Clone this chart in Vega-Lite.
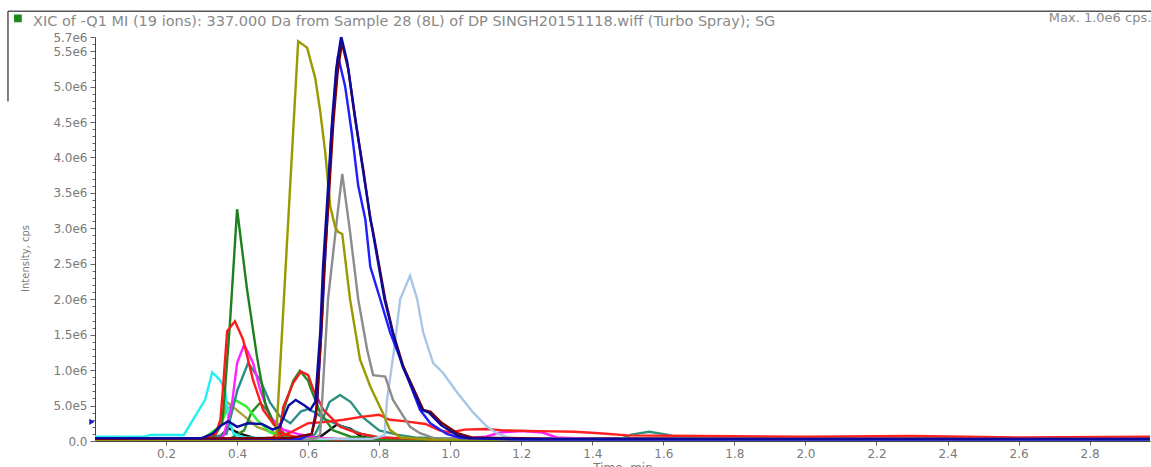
{
"$schema": "https://vega.github.io/schema/vega-lite/v6.json",
"width": 1055,
"height": 404,
"autosize": "none",
"padding": {"left": 95, "top": 37, "right": 1, "bottom": 26},
"background": "white",
"config": {"view": {"stroke": null}, "font": "DejaVu Sans", "axis": {"labelOverlap": false}},
"title": {"text": "XIC of -Q1 MI (19 ions): 337.000 Da from Sample 28 (8L) of DP SINGH20151118.wiff (Turbo Spray); SG", "anchor": "start", "frame": "group", "dx": -62, "offset": -19, "fontSize": 14.5, "fontWeight": "normal", "color": "#8a8a8a", "font": "DejaVu Sans"},
"datasets": {
"series": [
{"s":"darkred","t":0,"v":30000},{"s":"darkred","t":0.5,"v":30000},{"s":"darkred","t":1.0,"v":30000},{"s":"darkred","t":1.5,"v":40000},{"s":"darkred","t":2.0,"v":30000},{"s":"darkred","t":2.5,"v":40000},{"s":"darkred","t":2.97,"v":30000},
{"s":"purple","t":0,"v":10000},{"s":"purple","t":1.0,"v":10000},{"s":"purple","t":2.97,"v":10000},
{"s":"brown","t":0,"v":5000},{"s":"brown","t":0.8,"v":15000},{"s":"brown","t":1.6,"v":10000},{"s":"brown","t":2.97,"v":15000},
{"s":"black","t":0,"v":10000},{"s":"black","t":0.3,"v":10000},{"s":"black","t":0.35,"v":50000},{"s":"black","t":0.375,"v":180000},{"s":"black","t":0.41,"v":100000},{"s":"black","t":0.45,"v":40000},{"s":"black","t":0.6,"v":20000},{"s":"black","t":0.64,"v":80000},{"s":"black","t":0.68,"v":230000},{"s":"black","t":0.72,"v":170000},{"s":"black","t":0.75,"v":60000},{"s":"black","t":0.8,"v":20000},{"s":"black","t":2.97,"v":20000},
{"s":"olive2","t":0,"v":20000},{"s":"olive2","t":0.33,"v":30000},{"s":"olive2","t":0.35,"v":200000},{"s":"olive2","t":0.372,"v":550000},{"s":"olive2","t":0.408,"v":400000},{"s":"olive2","t":0.456,"v":200000},{"s":"olive2","t":0.493,"v":130000},{"s":"olive2","t":0.52,"v":100000},{"s":"olive2","t":0.55,"v":50000},{"s":"olive2","t":0.6,"v":20000},{"s":"olive2","t":2.97,"v":20000},
{"s":"green3","t":0,"v":20000},{"s":"green3","t":0.38,"v":30000},{"s":"green3","t":0.42,"v":150000},{"s":"green3","t":0.44,"v":400000},{"s":"green3","t":0.465,"v":540000},{"s":"green3","t":0.49,"v":400000},{"s":"green3","t":0.51,"v":200000},{"s":"green3","t":0.54,"v":80000},{"s":"green3","t":0.6,"v":20000},{"s":"green3","t":2.97,"v":20000},
{"s":"lime","t":0,"v":20000},{"s":"lime","t":0.3,"v":20000},{"s":"lime","t":0.35,"v":200000},{"s":"lime","t":0.372,"v":440000},{"s":"lime","t":0.394,"v":580000},{"s":"lime","t":0.428,"v":480000},{"s":"lime","t":0.456,"v":300000},{"s":"lime","t":0.493,"v":120000},{"s":"lime","t":0.53,"v":50000},{"s":"lime","t":0.6,"v":20000},{"s":"lime","t":0.8,"v":20000},
{"s":"cyan","t":0,"v":60000},{"s":"cyan","t":0.14,"v":60000},{"s":"cyan","t":0.155,"v":85000},{"s":"cyan","t":0.25,"v":85000},{"s":"cyan","t":0.276,"v":300000},{"s":"cyan","t":0.31,"v":580000},{"s":"cyan","t":0.33,"v":970000},{"s":"cyan","t":0.352,"v":860000},{"s":"cyan","t":0.366,"v":720000},{"s":"cyan","t":0.375,"v":340000},{"s":"cyan","t":0.39,"v":100000},{"s":"cyan","t":0.42,"v":50000},{"s":"cyan","t":0.6,"v":30000},{"s":"cyan","t":0.66,"v":20000},
{"s":"teal","t":0,"v":20000},{"s":"teal","t":0.3,"v":20000},{"s":"teal","t":0.37,"v":100000},{"s":"teal","t":0.38,"v":300000},{"s":"teal","t":0.401,"v":720000},{"s":"teal","t":0.431,"v":1100000},{"s":"teal","t":0.465,"v":860000},{"s":"teal","t":0.493,"v":540000},{"s":"teal","t":0.52,"v":350000},{"s":"teal","t":0.55,"v":250000},{"s":"teal","t":0.58,"v":420000},{"s":"teal","t":0.6,"v":450000},{"s":"teal","t":0.62,"v":400000},{"s":"teal","t":0.65,"v":300000},{"s":"teal","t":0.7,"v":200000},{"s":"teal","t":0.75,"v":100000},{"s":"teal","t":0.8,"v":50000},{"s":"teal","t":0.9,"v":30000},{"s":"teal","t":2.97,"v":20000},
{"s":"teal2","t":0,"v":30000},{"s":"teal2","t":0.6,"v":30000},{"s":"teal2","t":0.62,"v":100000},{"s":"teal2","t":0.64,"v":300000},{"s":"teal2","t":0.66,"v":550000},{"s":"teal2","t":0.69,"v":650000},{"s":"teal2","t":0.72,"v":550000},{"s":"teal2","t":0.75,"v":350000},{"s":"teal2","t":0.8,"v":150000},{"s":"teal2","t":0.85,"v":90000},{"s":"teal2","t":0.9,"v":50000},{"s":"teal2","t":1.0,"v":30000},{"s":"teal2","t":1.48,"v":30000},{"s":"teal2","t":1.51,"v":90000},{"s":"teal2","t":1.56,"v":130000},{"s":"teal2","t":1.61,"v":90000},{"s":"teal2","t":1.65,"v":40000},{"s":"teal2","t":2.97,"v":30000},
{"s":"magenta","t":0,"v":30000},{"s":"magenta","t":0.3,"v":20000},{"s":"magenta","t":0.36,"v":50000},{"s":"magenta","t":0.375,"v":300000},{"s":"magenta","t":0.386,"v":540000},{"s":"magenta","t":0.4,"v":1100000},{"s":"magenta","t":0.42,"v":1360000},{"s":"magenta","t":0.445,"v":1100000},{"s":"magenta","t":0.465,"v":720000},{"s":"magenta","t":0.493,"v":340000},{"s":"magenta","t":0.53,"v":160000},{"s":"magenta","t":0.57,"v":100000},{"s":"magenta","t":0.62,"v":50000},{"s":"magenta","t":0.7,"v":20000},{"s":"magenta","t":1.0,"v":30000},{"s":"magenta","t":1.1,"v":60000},{"s":"magenta","t":1.14,"v":120000},{"s":"magenta","t":1.2,"v":140000},{"s":"magenta","t":1.26,"v":120000},{"s":"magenta","t":1.3,"v":50000},{"s":"magenta","t":1.4,"v":30000},{"s":"magenta","t":2.97,"v":20000},
{"s":"green","t":0,"v":20000},{"s":"green","t":0.33,"v":20000},{"s":"green","t":0.358,"v":250000},{"s":"green","t":0.366,"v":720000},{"s":"green","t":0.38,"v":1670000},{"s":"green","t":0.4,"v":3270000},{"s":"green","t":0.428,"v":2140000},{"s":"green","t":0.456,"v":1190000},{"s":"green","t":0.479,"v":540000},{"s":"green","t":0.501,"v":250000},{"s":"green","t":0.53,"v":50000},{"s":"green","t":0.6,"v":20000},{"s":"green","t":2.97,"v":20000},
{"s":"red","t":0,"v":20000},{"s":"red","t":0.3,"v":20000},{"s":"red","t":0.34,"v":100000},{"s":"red","t":0.353,"v":300000},{"s":"red","t":0.36,"v":720000},{"s":"red","t":0.372,"v":1550000},{"s":"red","t":0.394,"v":1690000},{"s":"red","t":0.417,"v":1430000},{"s":"red","t":0.445,"v":860000},{"s":"red","t":0.473,"v":440000},{"s":"red","t":0.501,"v":250000},{"s":"red","t":0.53,"v":100000},{"s":"red","t":0.58,"v":40000},{"s":"red","t":0.7,"v":20000},
{"s":"green2","t":0.45,"v":20000},{"s":"green2","t":0.5,"v":40000},{"s":"green2","t":0.515,"v":100000},{"s":"green2","t":0.535,"v":500000},{"s":"green2","t":0.558,"v":850000},{"s":"green2","t":0.577,"v":990000},{"s":"green2","t":0.6,"v":850000},{"s":"green2","t":0.606,"v":760000},{"s":"green2","t":0.634,"v":400000},{"s":"green2","t":0.67,"v":150000},{"s":"green2","t":0.72,"v":60000},{"s":"green2","t":0.8,"v":30000},{"s":"green2","t":1.0,"v":20000},
{"s":"red2","t":0.45,"v":30000},{"s":"red2","t":0.5,"v":50000},{"s":"red2","t":0.52,"v":120000},{"s":"red2","t":0.53,"v":480000},{"s":"red2","t":0.558,"v":820000},{"s":"red2","t":0.58,"v":980000},{"s":"red2","t":0.6,"v":930000},{"s":"red2","t":0.615,"v":720000},{"s":"red2","t":0.643,"v":440000},{"s":"red2","t":0.69,"v":200000},{"s":"red2","t":0.738,"v":110000},{"s":"red2","t":0.8,"v":50000},{"s":"red2","t":0.9,"v":30000},{"s":"red2","t":1.0,"v":20000},
{"s":"red3","t":0.5,"v":30000},{"s":"red3","t":0.55,"v":120000},{"s":"red3","t":0.6,"v":250000},{"s":"red3","t":0.65,"v":270000},{"s":"red3","t":0.7,"v":300000},{"s":"red3","t":0.75,"v":340000},{"s":"red3","t":0.8,"v":370000},{"s":"red3","t":0.83,"v":300000},{"s":"red3","t":0.87,"v":280000},{"s":"red3","t":0.93,"v":240000},{"s":"red3","t":0.97,"v":150000},{"s":"red3","t":1.0,"v":120000},{"s":"red3","t":1.04,"v":160000},{"s":"red3","t":1.1,"v":170000},{"s":"red3","t":1.15,"v":150000},{"s":"red3","t":1.25,"v":140000},{"s":"red3","t":1.35,"v":130000},{"s":"red3","t":1.42,"v":110000},{"s":"red3","t":1.5,"v":80000},{"s":"red3","t":1.7,"v":70000},{"s":"red3","t":2.0,"v":60000},{"s":"red3","t":2.3,"v":70000},{"s":"red3","t":2.6,"v":50000},{"s":"red3","t":2.97,"v":60000},
{"s":"lightblue","t":0,"v":30000},{"s":"lightblue","t":0.78,"v":30000},{"s":"lightblue","t":0.815,"v":80000},{"s":"lightblue","t":0.822,"v":580000},{"s":"lightblue","t":0.842,"v":1290000},{"s":"lightblue","t":0.859,"v":2000000},{"s":"lightblue","t":0.887,"v":2330000},{"s":"lightblue","t":0.907,"v":2000000},{"s":"lightblue","t":0.924,"v":1530000},{"s":"lightblue","t":0.952,"v":1100000},{"s":"lightblue","t":0.98,"v":960000},{"s":"lightblue","t":1.02,"v":680000},{"s":"lightblue","t":1.065,"v":400000},{"s":"lightblue","t":1.104,"v":200000},{"s":"lightblue","t":1.135,"v":100000},{"s":"lightblue","t":1.17,"v":40000},{"s":"lightblue","t":1.3,"v":30000},{"s":"lightblue","t":2.97,"v":30000},
{"s":"gray","t":0,"v":20000},{"s":"gray","t":0.6,"v":20000},{"s":"gray","t":0.625,"v":40000},{"s":"gray","t":0.634,"v":100000},{"s":"gray","t":0.656,"v":2000000},{"s":"gray","t":0.682,"v":3170000},{"s":"gray","t":0.696,"v":3770000},{"s":"gray","t":0.718,"v":2950000},{"s":"gray","t":0.741,"v":2000000},{"s":"gray","t":0.766,"v":1290000},{"s":"gray","t":0.783,"v":930000},{"s":"gray","t":0.817,"v":910000},{"s":"gray","t":0.839,"v":580000},{"s":"gray","t":0.887,"v":200000},{"s":"gray","t":0.915,"v":110000},{"s":"gray","t":0.96,"v":30000},{"s":"gray","t":2.97,"v":20000},
{"s":"olive","t":0,"v":20000},{"s":"olive","t":0.49,"v":20000},{"s":"olive","t":0.51,"v":40000},{"s":"olive","t":0.572,"v":5640000},{"s":"olive","t":0.597,"v":5550000},{"s":"olive","t":0.62,"v":5120000},{"s":"olive","t":0.634,"v":4650000},{"s":"olive","t":0.648,"v":4080000},{"s":"olive","t":0.662,"v":3320000},{"s":"olive","t":0.676,"v":3020000},{"s":"olive","t":0.684,"v":2950000},{"s":"olive","t":0.696,"v":2920000},{"s":"olive","t":0.718,"v":2000000},{"s":"olive","t":0.746,"v":1150000},{"s":"olive","t":0.775,"v":770000},{"s":"olive","t":0.81,"v":400000},{"s":"olive","t":0.83,"v":160000},{"s":"olive","t":0.86,"v":50000},{"s":"olive","t":0.95,"v":20000},{"s":"olive","t":2.97,"v":20000},
{"s":"blue","t":0,"v":30000},{"s":"blue","t":0.58,"v":30000},{"s":"blue","t":0.61,"v":100000},{"s":"blue","t":0.625,"v":500000},{"s":"blue","t":0.64,"v":1800000},{"s":"blue","t":0.652,"v":3000000},{"s":"blue","t":0.665,"v":4300000},{"s":"blue","t":0.684,"v":5430000},{"s":"blue","t":0.704,"v":5010000},{"s":"blue","t":0.724,"v":4310000},{"s":"blue","t":0.741,"v":3600000},{"s":"blue","t":0.761,"v":3130000},{"s":"blue","t":0.775,"v":2460000},{"s":"blue","t":0.803,"v":2000000},{"s":"blue","t":0.831,"v":1530000},{"s":"blue","t":0.868,"v":1050000},{"s":"blue","t":0.915,"v":440000},{"s":"blue","t":0.944,"v":250000},{"s":"blue","t":0.99,"v":100000},{"s":"blue","t":1.03,"v":40000},{"s":"blue","t":1.2,"v":20000},{"s":"blue","t":2.97,"v":20000},
{"s":"maroon","t":0,"v":30000},{"s":"maroon","t":0.55,"v":40000},{"s":"maroon","t":0.61,"v":100000},{"s":"maroon","t":0.622,"v":350000},{"s":"maroon","t":0.636,"v":1450000},{"s":"maroon","t":0.645,"v":2400000},{"s":"maroon","t":0.657,"v":3350000},{"s":"maroon","t":0.671,"v":4500000},{"s":"maroon","t":0.683,"v":5200000},{"s":"maroon","t":0.695,"v":5620000},{"s":"maroon","t":0.713,"v":5250000},{"s":"maroon","t":0.732,"v":4550000},{"s":"maroon","t":0.755,"v":3840000},{"s":"maroon","t":0.775,"v":3130000},{"s":"maroon","t":0.783,"v":2950000},{"s":"maroon","t":0.817,"v":2000000},{"s":"maroon","t":0.839,"v":1530000},{"s":"maroon","t":0.868,"v":1050000},{"s":"maroon","t":0.924,"v":440000},{"s":"maroon","t":0.945,"v":410000},{"s":"maroon","t":0.975,"v":260000},{"s":"maroon","t":1.02,"v":110000},{"s":"maroon","t":1.06,"v":50000},{"s":"maroon","t":1.3,"v":30000},{"s":"maroon","t":2.97,"v":30000},
{"s":"navy","t":0,"v":40000},{"s":"navy","t":0.3,"v":40000},{"s":"navy","t":0.33,"v":100000},{"s":"navy","t":0.355,"v":220000},{"s":"navy","t":0.375,"v":280000},{"s":"navy","t":0.4,"v":200000},{"s":"navy","t":0.43,"v":250000},{"s":"navy","t":0.47,"v":240000},{"s":"navy","t":0.5,"v":160000},{"s":"navy","t":0.52,"v":200000},{"s":"navy","t":0.545,"v":500000},{"s":"navy","t":0.565,"v":580000},{"s":"navy","t":0.59,"v":500000},{"s":"navy","t":0.606,"v":440000},{"s":"navy","t":0.62,"v":550000},{"s":"navy","t":0.634,"v":1530000},{"s":"navy","t":0.642,"v":2460000},{"s":"navy","t":0.654,"v":3410000},{"s":"navy","t":0.668,"v":4550000},{"s":"navy","t":0.679,"v":5250000},{"s":"navy","t":0.693,"v":5710000},{"s":"navy","t":0.71,"v":5350000},{"s":"navy","t":0.73,"v":4650000},{"s":"navy","t":0.752,"v":3900000},{"s":"navy","t":0.775,"v":3150000},{"s":"navy","t":0.815,"v":2000000},{"s":"navy","t":0.838,"v":1530000},{"s":"navy","t":0.866,"v":1050000},{"s":"navy","t":0.92,"v":440000},{"s":"navy","t":0.94,"v":400000},{"s":"navy","t":0.975,"v":220000},{"s":"navy","t":1.02,"v":80000},{"s":"navy","t":1.05,"v":40000},{"s":"navy","t":1.2,"v":30000},{"s":"navy","t":2.97,"v":30000}
]
},
"layer": [
{
"data": {"name": "series"},
"mark": {"type": "line", "strokeWidth": 2.4, "clip": true},
"encoding": {
"x": {"field": "t", "type": "quantitative", "scale": {"domain": [0, 2.97], "nice": false, "zero": false},
 "axis": {"title": "Time, min", "values": [0.2,0.4,0.6,0.8,1.0,1.2,1.4,1.6,1.8,2.0,2.2,2.4,2.6,2.8], "tickCount": 100, "format": ".1f", "grid": false, "tickSize": 4, "labelPadding": 3, "labelFontSize": 12, "labelColor": "#7a7a7a", "labelFont": "DejaVu Sans", "domainColor": "#444", "tickColor": "#666", "titleFontSize": 12, "titleFontWeight": "normal", "titleColor": "#7a7a7a", "titlePadding": 3, "titleFont": "DejaVu Sans", "labelOverlap": false}},
"y": {"field": "v", "type": "quantitative", "scale": {"domain": [0, 5700000], "nice": false},
 "axis": {"title": "Intensity, cps", "tickCount": 100, "values": [0,100000,200000,300000,400000,500000,600000,700000,800000,900000,1000000,1100000,1200000,1300000,1400000,1500000,1600000,1700000,1800000,1900000,2000000,2100000,2200000,2300000,2400000,2500000,2600000,2700000,2800000,2900000,3000000,3100000,3200000,3300000,3400000,3500000,3600000,3700000,3800000,3900000,4000000,4100000,4200000,4300000,4400000,4500000,4600000,4700000,4800000,4900000,5000000,5100000,5200000,5300000,5400000,5500000,5600000,5700000],
 "labelExpr": "datum.value == 0 ? '0.0' : ((datum.value % 500000 == 0 || datum.value == 5700000) ? replace(format(datum.value, '.1e'), 'e+', 'e') : '')",
 "tickSize": {"condition": {"test": "datum.value % 500000 == 0 || datum.value == 5700000", "value": 5}, "value": 3},
 "grid": false, "labelPadding": 3, "labelFontSize": 12, "labelColor": "#7a7a7a", "labelFont": "DejaVu Sans", "domainColor": "#444", "tickColor": "#666", "titleFontSize": 10, "titleFontWeight": "normal", "titleColor": "#7a7a7a", "titlePadding": 22, "titleY": 221, "titleFont": "DejaVu Sans", "labelOverlap": false}},
"color": {"field": "s", "type": "nominal", "legend": null,
 "scale": {"domain": ["darkred","purple","brown","black","olive2","green3","lime","cyan","teal","teal2","magenta","green","red","green2","red2","red3","lightblue","gray","olive","blue","maroon","navy"],
 "range": ["#8b1a1a","#6a2a9a","#6b5a10","#111111","#a3a33a","#2e8b2e","#33ee33","#22f0f0","#2a8c8c","#2e9080","#ff22ff","#1e7f1e","#ff1a1a","#238b23","#f21c1c","#ff2020","#a9c6e6","#8c8c8c","#9a9a00","#1e1eff","#7a0000","#0a0aa0"]}},
"order": {"field": "t", "type": "quantitative"}
}
},
{
"data": {"values": [{"k": 1}]},
"mark": {"type": "rule", "color": "#555555", "strokeWidth": 1.5},
"encoding": {"x": {"datum": -0.245}, "x2": {"datum": 2.975}, "y": {"datum": 6062000}}
},
{
"data": {"values": [{"k": 1}]},
"mark": {"type": "rule", "color": "#555555", "strokeWidth": 1.5},
"encoding": {"x": {"datum": -0.245}, "y": {"datum": 6062000}, "y2": {"datum": 4790000}}
},
{
"data": {"values": [{"k": 1}]},
"mark": {"type": "point", "shape": "square", "filled": true, "size": 60, "color": "#1a8a1a", "opacity": 1},
"encoding": {"x": {"datum": -0.217}, "y": {"datum": 5963000}}
},
{
"data": {"values": [{"label": "Max. 1.0e6 cps."}]},
"mark": {"type": "text", "align": "left", "baseline": "middle", "fontSize": 13, "color": "#8a8a8a", "font": "DejaVu Sans"},
"encoding": {"x": {"datum": 2.685}, "y": {"datum": 5963000}, "text": {"field": "label"}}
},
{
"data": {"values": [{"k": 1}]},
"mark": {"type": "point", "shape": "triangle-right", "filled": true, "size": 40, "color": "#2020c0", "opacity": 1, "xOffset": -3},
"encoding": {"x": {"datum": 0}, "y": {"datum": 270000}}
}
]
}
